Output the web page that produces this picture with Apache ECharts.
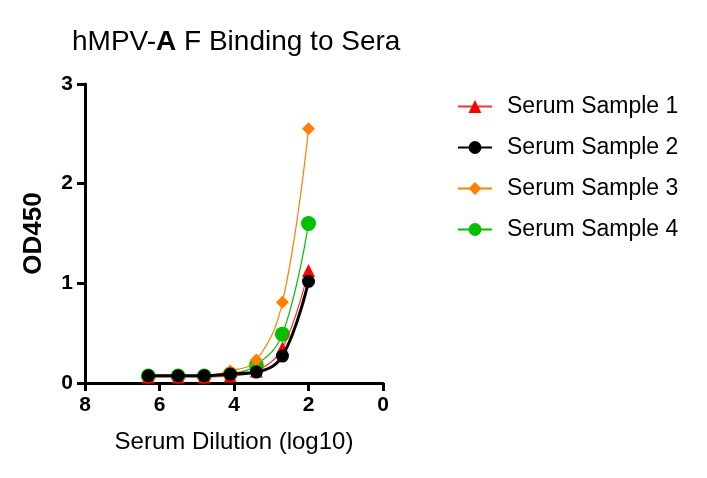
<!DOCTYPE html>
<html><head><meta charset="utf-8">
<script src="https://cdn.jsdelivr.net/npm/echarts@6/dist/echarts.min.js"></script>
<style>html,body{margin:0;padding:0;background:#fff}#c{width:707px;height:478px}</style>
</head><body><div id="c"></div>
<script>
const dilutions = [6.3, 5.5, 4.8, 4.1, 3.4, 2.7, 2.0];
const sample1 = [0.06, 0.06, 0.06, 0.07, 0.12, 0.35, 1.13];
const sample2 = [0.073, 0.073, 0.073, 0.09, 0.11, 0.27, 1.02];
const sample3 = [0.08, 0.08, 0.08, 0.12, 0.23, 0.81, 2.55];
const sample4 = [0.07, 0.07, 0.07, 0.09, 0.18, 0.49, 1.60];
const names = ['Serum Sample 1', 'Serum Sample 2', 'Serum Sample 3', 'Serum Sample 4'];
const xTicks = [0, 2, 4, 6, 8];
const yTicks = [0, 1, 2, 3];

function pts(v){ return dilutions.map((d,i)=>[d, v[i]]); }
const chart = echarts.init(document.getElementById('c'));
const font = 'Arial, "Liberation Sans", sans-serif';
chart.setOption({
  animation: false,
  title: {
    text: 'hMPV-{b|A} F Binding to Sera',
    left: 67, top: 23,
    textStyle: {
      fontFamily: font, fontSize: 28, fontWeight: 'normal', color: '#000',
      rich: { b: { fontFamily: font, fontSize: 28, fontWeight: 'bold', color: '#000' } }
    }
  },
  legend: {
    orient: 'vertical', left: 452, top: 90,
    itemWidth: 34, itemHeight: 16, itemGap: 18,
    data: names,
    textStyle: { fontFamily: font, fontSize: 23, color: '#000', padding: [0,0,0,10] }
  },
  grid: { left: 85, right: 324, top: 84, bottom: 95, containLabel: false },
  xAxis: {
    type: 'value', min: 0, max: 8, interval: 2, inverse: true,
    name: 'Serum Dilution (log10)', nameLocation: 'middle', nameGap: 47,
    nameTextStyle: { fontFamily: font, fontSize: 24, color: '#000' },
    axisLine: { onZero: false, lineStyle: { color: '#000', width: 3 } },
    axisTick: { show: true, length: 8, lineStyle: { color: '#000', width: 3 } },
    axisLabel: { fontFamily: font, fontSize: 21, fontWeight: 'bold', color: '#000', margin: 12,
      formatter: v => xTicks.includes(v) ? String(v) : '' },
    splitLine: { show: false }
  },
  yAxis: {
    type: 'value', min: 0, max: 3, interval: 1, position: 'left',
    name: 'OD450', nameLocation: 'middle', nameGap: 38,
    nameTextStyle: { fontFamily: font, fontSize: 26, fontWeight: 'bold', color: '#000' },
    axisLine: { show: true, onZero: false, lineStyle: { color: '#000', width: 3 } },
    axisTick: { show: true, length: 8, lineStyle: { color: '#000', width: 3 } },
    axisLabel: { fontFamily: font, fontSize: 21, fontWeight: 'bold', color: '#000', margin: 12,
      formatter: v => yTicks.includes(v) ? String(v) : '' },
    splitLine: { show: false }
  },
  series: [
    { name: names[0], type: 'line', data: pts(sample1), smooth: 0.4, z: 3,
      symbol: 'triangle', symbolSize: 13, itemStyle: { color: '#ff0000' },
      lineStyle: { color: '#ff3030', width: 1.2 } },
    { name: names[1], type: 'line', data: pts(sample2), smooth: 0.4, z: 4,
      symbol: 'circle', symbolSize: 13, itemStyle: { color: '#000' },
      lineStyle: { color: '#000', width: 3 } },
    { name: names[2], type: 'line', data: pts(sample3), smooth: 0.4, z: 2,
      symbol: 'diamond', symbolSize: 13, itemStyle: { color: '#ff8000' },
      lineStyle: { color: '#ff8000', width: 1.2 } },
    { name: names[3], type: 'line', data: pts(sample4), smooth: 0.4, z: 1,
      symbol: 'circle', symbolSize: 15, itemStyle: { color: '#00c000' },
      lineStyle: { color: '#00c000', width: 1.2 } }
  ]
});
</script></body></html>
